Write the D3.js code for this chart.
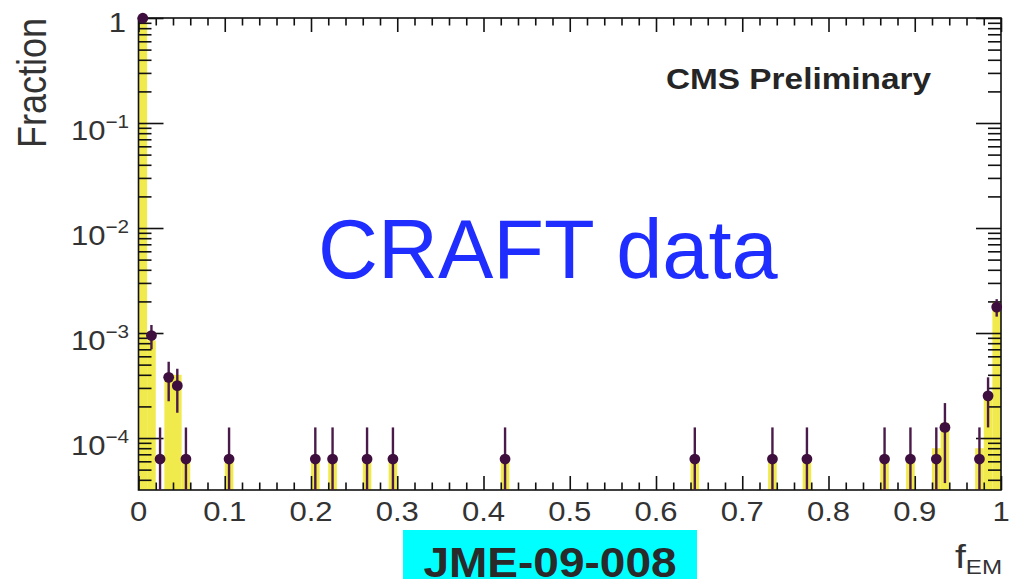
<!DOCTYPE html>
<html>
<head>
<meta charset="utf-8">
<script src="https://cdn.jsdelivr.net/npm/d3@7"></script>
<style>
  html, body { margin: 0; padding: 0; background: #ffffff; }
  svg { display: block; }
</style>
</head>
<body>
<svg id="chart" width="1017" height="579"></svg>
<script>
// ---- Data: f_EM distribution of CRAFT jets (bin width 0.01) ----
const binWidth = 0.01;
const totalEvents = 15850;

// lower edges of the bins that hold data
const dataBinLow = [0.00, 0.01, 0.02, 0.03, 0.04, 0.05, 0.10, 0.20, 0.22, 0.26, 0.29,
                    0.42, 0.64, 0.73, 0.77, 0.86, 0.89, 0.92, 0.93, 0.97, 0.98, 0.99];
// events per bin and their statistical errors
const dataEvents = [15775, 15, 1, 6, 5, 1, 1, 1, 1, 1, 1,
                    1, 1, 1, 1, 1, 1, 1, 2, 1, 4, 28];
const dataErrors = [125.6, 3.9, 1, 2.45, 2.24, 1, 1, 1, 1, 1, 1,
                    1, 1, 1, 1, 1, 1, 1, 1.41, 1, 2, 5.3];

// filled reference histogram (fraction per bin)
const refBinLow = [0.00, 0.01, 0.03, 0.04, 0.05, 0.10, 0.20, 0.22, 0.26, 0.29,
                   0.42, 0.64, 0.73, 0.77, 0.86, 0.89, 0.92, 0.93, 0.97, 0.98, 0.99];
const refFraction = [1.0, 8.5e-4, 4.0e-4, 4.0e-4, 6.3e-5, 6.3e-5, 6.3e-5, 6.3e-5, 6.3e-5, 6.3e-5,
                     6.3e-5, 6.3e-5, 6.3e-5, 6.3e-5, 6.3e-5, 6.3e-5, 8.0e-5, 1.39e-4, 8.0e-5, 2.57e-4, 1.97e-3];

// axis labels
const xTickValues = [0, 0.1, 0.2, 0.3, 0.4, 0.5, 0.6, 0.7, 0.8, 0.9, 1];
const xTickLabels = ["0", "0.1", "0.2", "0.3", "0.4", "0.5", "0.6", "0.7", "0.8", "0.9", "1"];
const yTickValues = [1, 1e-1, 1e-2, 1e-3, 1e-4];
const yTickExponents = [null, "\u22121", "\u22122", "\u22123", "\u22124"];

// ---- Layout ----
const frame = { left: 138.5, right: 1001, top: 18, bottom: 490 };
const yMin = Math.pow(10, -4.495);
const stretch = 1.15;              // horizontal stretch of the plot's lettering
const ink = "#333333";
const markColor = "#3e0f3e";
const fillColor = "#f1ea4c";

const svg = d3.select("#chart");
const x = d3.scaleLinear().domain([0, 1]).range([frame.left, frame.right]);
const y = d3.scaleLog().domain([yMin, 1]).range([frame.bottom, frame.top]);

svg.append("defs").append("clipPath").attr("id", "plotClip")
  .append("rect")
  .attr("x", frame.left).attr("y", frame.top)
  .attr("width", frame.right - frame.left).attr("height", frame.bottom - frame.top);

// ---- Filled histogram ----
svg.append("g").attr("clip-path", "url(#plotClip)")
  .selectAll("rect").data(refBinLow.map((b, i) => ({ b, v: refFraction[i] })))
  .join("rect")
  .attr("x", d => x(d.b))
  .attr("width", d => x(d.b + binWidth) - x(d.b))
  .attr("y", d => y(d.v))
  .attr("height", d => frame.bottom - y(d.v))
  .attr("fill", fillColor);

// ---- Axes (ticks pointing inwards, as in the frame style) ----
function styleAxis(g) {
  g.select(".domain").remove();
  g.selectAll(".tick line").attr("stroke", "#111").attr("stroke-width", 1.6);
  g.selectAll(".tick text").remove();
}

const xMinor = d3.range(0, 1.0001, 0.02).filter(v => Math.abs(v * 10 - Math.round(v * 10)) > 1e-6);
const yMinor = [];
[1e-5, 1e-4, 1e-3, 1e-2, 1e-1].forEach(dec => {
  for (let m = 2; m <= 9; m++) {
    const v = dec * m;
    if (v >= yMin && v < 1) yMinor.push(v);
  }
});

// bottom
svg.append("g").attr("transform", `translate(0,${frame.bottom})`)
  .call(d3.axisBottom(x).tickValues(xTickValues).tickSize(-14).tickFormat("")).call(styleAxis);
svg.append("g").attr("transform", `translate(0,${frame.bottom})`)
  .call(d3.axisBottom(x).tickValues(xMinor).tickSize(-7.5).tickFormat("")).call(styleAxis);
// top
svg.append("g").attr("transform", `translate(0,${frame.top})`)
  .call(d3.axisTop(x).tickValues(xTickValues).tickSize(-14).tickFormat("")).call(styleAxis);
svg.append("g").attr("transform", `translate(0,${frame.top})`)
  .call(d3.axisTop(x).tickValues(xMinor).tickSize(-7.5).tickFormat("")).call(styleAxis);
// left
svg.append("g").attr("transform", `translate(${frame.left},0)`)
  .call(d3.axisLeft(y).tickValues(yTickValues).tickSize(-25).tickFormat("")).call(styleAxis);
svg.append("g").attr("transform", `translate(${frame.left},0)`)
  .call(d3.axisLeft(y).tickValues(yMinor).tickSize(-13).tickFormat("")).call(styleAxis);
// right
svg.append("g").attr("transform", `translate(${frame.right},0)`)
  .call(d3.axisRight(y).tickValues(yTickValues).tickSize(-25).tickFormat("")).call(styleAxis);
svg.append("g").attr("transform", `translate(${frame.right},0)`)
  .call(d3.axisRight(y).tickValues(yMinor).tickSize(-13).tickFormat("")).call(styleAxis);

// frame
svg.append("rect")
  .attr("x", frame.left).attr("y", frame.top)
  .attr("width", frame.right - frame.left).attr("height", frame.bottom - frame.top)
  .attr("fill", "none").attr("stroke", "#111").attr("stroke-width", 1.6);

// ---- Tick labels ----
const font = "'Liberation Sans', Arial, Helvetica, sans-serif";

svg.append("g").selectAll("text").data(xTickValues)
  .join("text")
  .attr("transform", d => `translate(${x(d)},521) scale(${stretch},1)`)
  .attr("text-anchor", "middle")
  .attr("font-family", font).attr("font-size", 27).attr("fill", ink)
  .text((d, i) => xTickLabels[i]);

const yLab = svg.append("g");
yTickValues.forEach((v, i) => {
  const exp = yTickExponents[i];
  if (exp === null) {
    yLab.append("text")
      .attr("transform", `translate(126,${y(v) + 13.5}) scale(${stretch},1)`)
      .attr("text-anchor", "end")
      .attr("font-family", font).attr("font-size", 27).attr("fill", ink)
      .text("1");
  } else {
    const t = yLab.append("text")
      .attr("transform", `translate(129,${y(v) + 17}) scale(${stretch},1)`)
      .attr("text-anchor", "end")
      .attr("font-family", font).attr("font-size", 27).attr("fill", ink);
    t.append("tspan").text("10");
    t.append("tspan").attr("font-size", 18).attr("dy", -12).text(exp);
  }
});

// axis titles
svg.append("text")
  .attr("transform", `translate(46,18) scale(${stretch},1) rotate(-90)`)
  .attr("text-anchor", "end")
  .attr("font-family", font).attr("font-size", 36).attr("fill", ink)
  .text("Fraction");

const xt = svg.append("text")
  .attr("transform", `translate(1002,568) scale(${stretch},1)`)
  .attr("text-anchor", "end")
  .attr("font-family", font).attr("fill", ink);
xt.append("tspan").attr("font-size", 34).text("f");
xt.append("tspan").attr("font-size", 21).attr("dy", 6).text("EM");

// ---- Data points with error bars ----
const points = dataBinLow.map((b, i) => ({
  xc: b + binWidth / 2,
  v: dataEvents[i] / totalEvents,
  lo: Math.max(dataEvents[i] - dataErrors[i], 0) / totalEvents,
  hi: (dataEvents[i] + dataErrors[i]) / totalEvents
}));

const dataG = svg.append("g").attr("clip-path", "url(#plotClip)");
dataG.selectAll("line").data(points).join("line")
  .attr("x1", d => x(d.xc)).attr("x2", d => x(d.xc))
  .attr("y1", d => d.lo > yMin ? y(d.lo) : frame.bottom)
  .attr("y2", d => y(d.hi))
  .attr("stroke", "#4a1a4a").attr("stroke-width", 2.4);
svg.append("g").selectAll("circle").data(points).join("circle")
  .attr("cx", d => x(d.xc)).attr("cy", d => y(d.v))
  .attr("r", 5.4).attr("fill", markColor);

// ---- Annotations ----
svg.append("text")
  .attr("transform", `translate(666,89) scale(${stretch},1)`)
  .attr("font-family", font).attr("font-weight", "bold").attr("font-size", 29).attr("fill", "#252525")
  .text("CMS Preliminary");

svg.append("text")
  .attr("x", 318).attr("y", 278)
  .attr("font-family", font).attr("font-size", 83).attr("fill", "#1f2dff")
  .text("CRAFT data");

svg.append("rect")
  .attr("x", 403).attr("y", 530).attr("width", 294).attr("height", 49)
  .attr("fill", "#00ffff");
svg.append("text")
  .attr("transform", "translate(550,577) scale(1.07,1)")
  .attr("text-anchor", "middle")
  .attr("font-family", font).attr("font-weight", "bold").attr("font-size", 43).attr("fill", "#2a2a2a")
  .text("JME-09-008");
</script>
</body>
</html>
